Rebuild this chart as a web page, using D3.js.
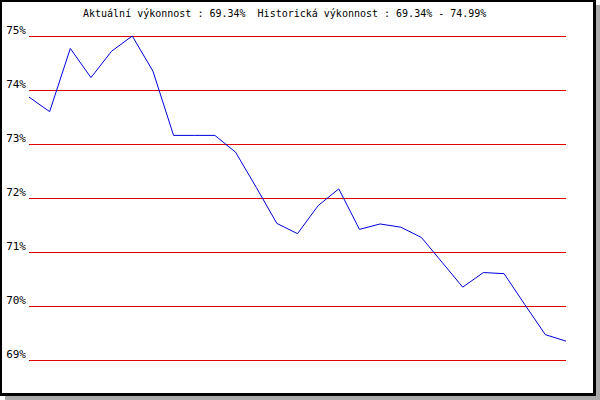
<!DOCTYPE html>
<html>
<head>
<meta charset="utf-8">
<script src="https://cdn.jsdelivr.net/npm/d3@7"></script>
<style>
  body { margin: 0; background: #fff; }
  svg { display: block; }
</style>
</head>
<body>
<svg id="chart"></svg>
<script>
var width = 600;
var height = 400;

// chart values (one point per period)
var titleText = "Aktuální výkonnost : 69.34%  Historická výkonnost : 69.34% - 74.99%";
var yTicks = [69, 70, 71, 72, 73, 74, 75];
var performance = [73.86, 73.59, 74.76, 74.22, 74.71, 74.99, 74.34, 73.15, 73.15, 73.15,
                   72.84, 72.19, 71.52, 71.33, 71.85, 72.16, 71.41, 71.51, 71.45, 71.26,
                   70.80, 70.34, 70.61, 70.59, 70.02, 69.46, 69.34];

var svg = d3.select("#chart")
  .attr("width", width)
  .attr("height", height);

// shadow + framed box
svg.append("rect").attr("x", 5).attr("y", 5).attr("width", 595).attr("height", 395).attr("fill", "#aaaaaa");
svg.append("rect").attr("x", 0).attr("y", 0).attr("width", 596).attr("height", 396).attr("fill", "#000");
svg.append("rect").attr("x", 2).attr("y", 2).attr("width", 591).attr("height", 391).attr("fill", "#fff");

var x = d3.scaleLinear()
  .domain([0, performance.length - 1])
  .range([29, 566]);

var y = d3.scaleLinear()
  .domain([69, 75])
  .range([359.5, 35.5]);

// gridlines + labels
var y_axis = d3.axisLeft(y)
  .tickValues(yTicks)
  .tickSize(-(566 - 29))
  .tickPadding(3)
  .tickFormat(d => d + "%");

var g = svg.append("g").attr("transform", "translate(29,0)").call(y_axis);
g.select(".domain").remove();
g.selectAll(".tick line")
  .attr("stroke", "#e00000")
  .attr("shape-rendering", "crispEdges");
g.selectAll(".tick text")
  .attr("dy", "-2")
  .attr("fill", "#000")
  .style("font-family", "'DejaVu Sans Mono', monospace")
  .style("font-size", "11px");

// the performance line
var line = d3.line()
  .x((d, i) => x(i))
  .y(d => y(d));

svg.append("path")
  .datum(performance)
  .attr("d", line)
  .attr("fill", "none")
  .attr("stroke", "#0000dd")
  .attr("stroke-width", 1);

svg.append("text")
  .attr("x", 83)
  .attr("y", 17)
  .text(titleText)
  .attr("fill", "#000")
  .style("font-family", "'DejaVu Sans Mono', monospace")
  .style("font-size", "10px")
  .style("white-space", "pre");
</script>
</body>
</html>
